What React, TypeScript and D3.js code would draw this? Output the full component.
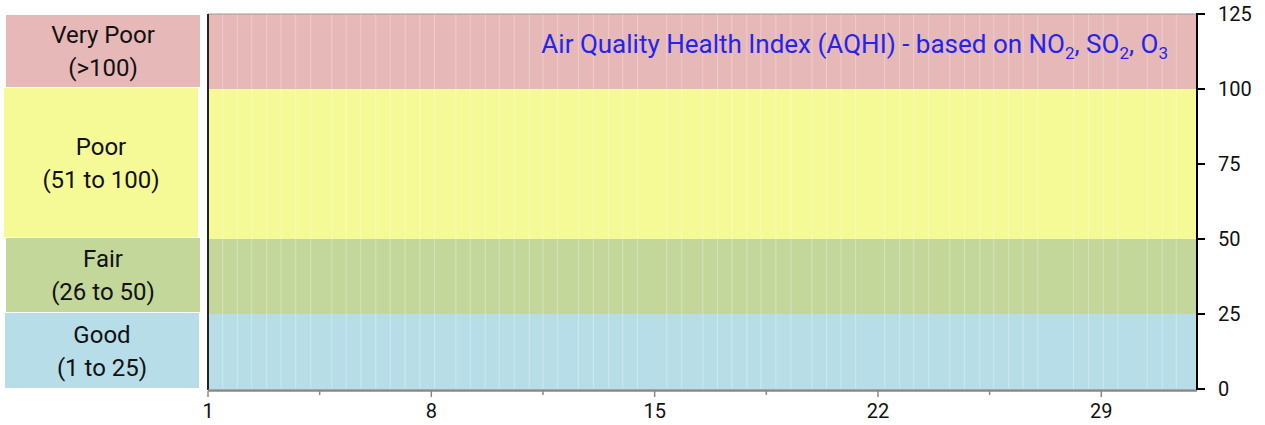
import React from "react";
import * as d3 from "d3";

// AQHI categories, bottom to top
const bandNames = ["Good", "Fair", "Poor", "Very Poor"];
const bandRanges = ["(1 to 25)", "(26 to 50)", "(51 to 100)", "(>100)"];
const bandLows = [0, 25, 50, 100];
const bandHighs = [25, 50, 100, 125];
const bandColors = ["#b7dee8", "#c4d79b", "#f5fa96", "#e6b8b7"];

// day-of-month positions of the sample columns (faint seams in the bands)
const sampleDays = [
  1.46, 1.92, 2.37, 2.84, 3.29, 3.75, 4.22, 4.88, 5.33, 5.79, 6.26, 6.71,
  7.18, 7.64, 8.1, 8.77, 9.22, 9.69, 10.13, 10.6, 11.07, 11.5, 11.96, 12.61,
  13.08, 13.56, 14.0, 14.46, 15.38, 15.85, 16.51, 16.97, 17.42, 17.89, 18.33,
  18.8, 19.27, 19.93, 20.39, 20.84, 21.3, 22.21, 22.68, 23.12, 23.59, 24.25,
  24.71, 25.19, 25.63, 26.1, 26.55, 27.01, 28.13, 28.6, 29.06, 29.52, 30.44,
  30.91, 31.35,
];

const xTicks = [1, 8, 15, 22, 29];
const xMinorTicks = [4.5, 11.5, 18.5, 25.5];
const yTicks = [0, 25, 50, 75, 100, 125];

const width = 1265;
const height = 425;
const margin = { top: 14, right: 68, bottom: 36, left: 208 };
const font = "Roboto, 'Liberation Sans', sans-serif";

export default function App() {
  const x = d3
    .scaleLinear()
    .domain([1, 32])
    .range([margin.left, width - margin.right]);
  const y = d3
    .scaleLinear()
    .domain([0, 125])
    .range([height - margin.bottom, margin.top]);

  const [x0, x1] = x.range();
  const [yBottom, yTop] = y.range();

  return (
    <svg
      width={width}
      height={height}
      style={{ position: "absolute", left: 0, top: 0, display: "block" }}
      fontFamily={font}
    >
      {/* legend boxes */}
      {bandNames.map((name, i) => {
        const top = y(bandHighs[i]) + (i === 3 ? 1 : -1);
        const bottom = y(bandLows[i]) - (i === 0 ? 1 : 2);
        const cy = (top + bottom) / 2;
        const dx = i === 2 ? -2 : i === 0 ? -1 : 0;
        return (
          <g key={name}>
            <rect
              x={6 + dx}
              y={top}
              width={194}
              height={bottom - top}
              fill={bandColors[i]}
            />
            <text
              x={103 + dx}
              y={cy - 16}
              textAnchor="middle"
              dominantBaseline="central"
              fontSize={24}
              fill="#111"
            >
              {name}
            </text>
            <text
              x={103 + dx}
              y={cy + 17}
              textAnchor="middle"
              dominantBaseline="central"
              fontSize={24}
              fill="#111"
            >
              {bandRanges[i]}
            </text>
          </g>
        );
      })}

      {/* bands */}
      {bandNames.map((name, i) => (
        <rect
          key={"band" + name}
          x={x0}
          y={y(bandHighs[i])}
          width={x1 - x0}
          height={y(bandLows[i]) - y(bandHighs[i])}
          fill={bandColors[i]}
        />
      ))}

      {/* faint column seams */}
      {sampleDays.map((d) => (
        <line
          key={d}
          x1={x(d)}
          x2={x(d)}
          y1={yTop}
          y2={yBottom}
          stroke="#ffffff"
          strokeOpacity={0.3}
          strokeWidth={1}
        />
      ))}

      {/* frame */}
      <line x1={x0} x2={x1} y1={yTop} y2={yTop} stroke="#999" strokeWidth={1} />
      <line x1={x0} x2={x0} y1={yTop} y2={yBottom + 1} stroke="#222" strokeWidth={2} />

      {/* bottom axis */}
      <line
        x1={x0}
        x2={x1}
        y1={yBottom + 1.5}
        y2={yBottom + 1.5}
        stroke="#888"
        strokeWidth={2.5}
      />
      {xTicks.map((t) => (
        <g key={"xt" + t}>
          <line
            x1={x(t)}
            x2={x(t)}
            y1={yBottom + 2}
            y2={yBottom + 8}
            stroke="#888"
            strokeWidth={1.5}
          />
          <text
            x={x(t)}
            y={yBottom + 29}
            textAnchor="middle"
            fontSize={20}
            fill="#111"
          >
            {t}
          </text>
        </g>
      ))}
      {xMinorTicks.map((t) => (
        <line
          key={"xm" + t}
          x1={x(t)}
          x2={x(t)}
          y1={yBottom + 2}
          y2={yBottom + 6}
          stroke="#888"
          strokeWidth={1.5}
        />
      ))}

      {/* right axis */}
      <line x1={x1} x2={x1} y1={yTop - 1} y2={yBottom + 1} stroke="#000" strokeWidth={2} />
      {yTicks.map((t) => (
        <g key={"yt" + t}>
          <line x1={x1} x2={x1 + 8} y1={y(t)} y2={y(t)} stroke="#000" strokeWidth={2} />
          <text
            x={x1 + 21}
            y={y(t)}
            dominantBaseline="central"
            fontSize={20}
            fill="#111"
          >
            {t}
          </text>
        </g>
      ))}

      {/* title */}
      <text x={1168} y={53} textAnchor="end" fontSize={26} fill="#2424ee">
        Air Quality Health Index (AQHI) - based on NO
        <tspan dy={6} fontSize={17}>2</tspan>
        <tspan dy={-6}>, SO</tspan>
        <tspan dy={6} fontSize={17}>2</tspan>
        <tspan dy={-6}>, O</tspan>
        <tspan dy={6} fontSize={17}>3</tspan>
      </text>
    </svg>
  );
}
